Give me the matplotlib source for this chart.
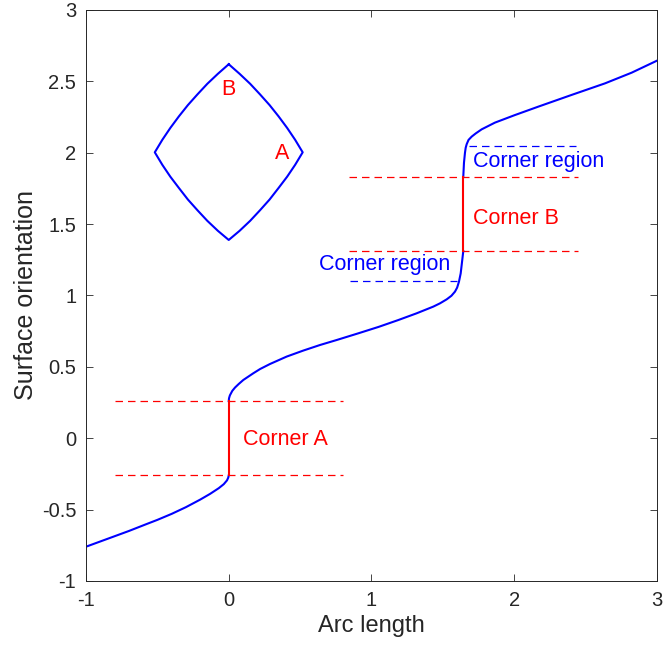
import numpy as np
import matplotlib.pyplot as plt
from matplotlib.ticker import FuncFormatter

plt.rcParams['font.family'] = ['Liberation Sans', 'DejaVu Sans']
plt.rcParams['axes.unicode_minus'] = False

# orientation curve (arc length, orientation)
seg1_x = [-1.0, -0.809, -0.7, -0.575, -0.5, -0.4, -0.3, -0.2, -0.131, -0.07, -0.035, -0.012, -0.003, 0.0]
seg1_y = [-0.76, -0.690, -0.65, -0.601, -0.572, -0.530, -0.483, -0.430, -0.39, -0.35, -0.322, -0.295, -0.275, -0.26]

seg2_x = [0.0, 0.002, 0.008, 0.025, 0.044, 0.07, 0.102, 0.172, 0.22, 0.289, 0.406, 0.522, 0.639, 0.756,
          0.908, 1.05, 1.188, 1.316, 1.433, 1.48, 1.527, 1.56, 1.585, 1.60, 1.613, 1.625, 1.636, 1.643]
seg2_y = [0.26, 0.28, 0.30, 0.332, 0.355, 0.38, 0.408, 0.455, 0.485, 0.52, 0.572, 0.614, 0.653, 0.688,
          0.735, 0.78, 0.828, 0.875, 0.922, 0.945, 0.973, 0.998, 1.027, 1.055, 1.097, 1.155, 1.249, 1.31]

seg3_x = [1.643, 1.648, 1.655, 1.66, 1.667, 1.68, 1.702, 1.73, 1.772, 1.865, 2.005, 2.169, 2.402, 2.636, 2.823, 3.0]
seg3_y = [1.83, 1.93, 2.0, 2.035, 2.06, 2.09, 2.113, 2.135, 2.164, 2.211, 2.264, 2.323, 2.405, 2.486, 2.561, 2.645]

# corners (vertical jumps)
cornerA_x = [0.0, 0.0]
cornerA_y = [-0.26, 0.26]
cornerB_x = [1.643, 1.643]
cornerB_y = [1.31, 1.83]

# dashed guide lines: (x0, x1, y)
red_guides = [(-0.8, 0.8, 0.26), (-0.8, 0.8, -0.26), (0.84, 2.45, 1.83), (0.84, 2.45, 1.31)]
blue_guides = [(1.68, 2.43, 2.05), (0.85, 1.6, 1.10)]

# inset shape outline
shape_x = [0.0, 0.076, 0.150, 0.219, 0.286, 0.349, 0.409, 0.465, 0.518,
           0.465, 0.409, 0.349, 0.286, 0.219, 0.150, 0.076, 0.0,
           -0.076, -0.150, -0.219, -0.286, -0.349, -0.409, -0.465, -0.518,
           -0.465, -0.409, -0.349, -0.286, -0.219, -0.150, -0.076, 0.0]
shape_y = [2.62, 2.553, 2.483, 2.409, 2.334, 2.255, 2.174, 2.091, 2.003,
           1.915, 1.832, 1.753, 1.672, 1.597, 1.523, 1.453, 1.389,
           1.453, 1.523, 1.597, 1.672, 1.753, 1.832, 1.915, 2.003,
           2.091, 2.174, 2.255, 2.334, 2.409, 2.483, 2.553, 2.62]

x_ticks = [-1, 0, 1, 2, 3]
y_ticks = [-1, -0.5, 0, 0.5, 1, 1.5, 2, 2.5, 3]

fig = plt.figure(figsize=(6.63, 6.53), dpi=100)
ax = fig.add_axes([0.1297, 0.1103, 0.8612, 0.8744])

blue = '#0000FF'
red = '#FF0000'

for x0, x1, y in red_guides:
    ax.plot([x0, x1], [y, y], color=red, lw=0.9, dashes=(6, 4))
for x0, x1, y in blue_guides:
    ax.plot([x0, x1], [y, y], color=blue, lw=0.9, dashes=(6, 4))

ax.plot(seg1_x, seg1_y, color=blue, lw=1.5)
ax.plot(seg2_x, seg2_y, color=blue, lw=1.5)
ax.plot(seg3_x, seg3_y, color=blue, lw=1.5)
ax.plot(cornerA_x, cornerA_y, color=red, lw=1.5)
ax.plot(cornerB_x, cornerB_y, color=red, lw=1.5)
ax.plot(shape_x, shape_y, color=blue, lw=1.5)

fs = 15.5
ax.text(0.0, 2.44, 'B', color=red, fontsize=fs, ha='center', va='center')
ax.text(0.371, 1.996, 'A', color=red, fontsize=fs, ha='center', va='center')
ax.text(0.102, -0.012, 'Corner A', color=red, fontsize=fs, ha='left', va='center')
ax.text(1.709, 1.541, 'Corner B', color=red, fontsize=fs, ha='left', va='center')
ax.text(1.709, 1.937, 'Corner region', color=blue, fontsize=fs, ha='left', va='center')
ax.text(1.55, 1.214, 'Corner region', color=blue, fontsize=fs, ha='right', va='center')

ax.set_xlim(-1, 3)
ax.set_ylim(-1, 3)
ax.set_xticks(x_ticks)
ax.set_yticks(y_ticks)
ax.xaxis.set_major_formatter(FuncFormatter(lambda v, p: ('%g' % v)))
ax.yaxis.set_major_formatter(FuncFormatter(lambda v, p: ('%g' % v)))
ax.tick_params(direction='in', top=True, right=True, length=5, width=0.6,
               labelsize=14.5, colors='#262626', pad=7)
for sp in ax.spines.values():
    sp.set_color('#262626')
    sp.set_linewidth(0.7)

ax.set_xlabel('Arc length', fontsize=17, color='#262626', labelpad=4)
ax.set_ylabel('Surface orientation', fontsize=18, color='#262626', labelpad=3)

fig.savefig('out.png', dpi=100)
